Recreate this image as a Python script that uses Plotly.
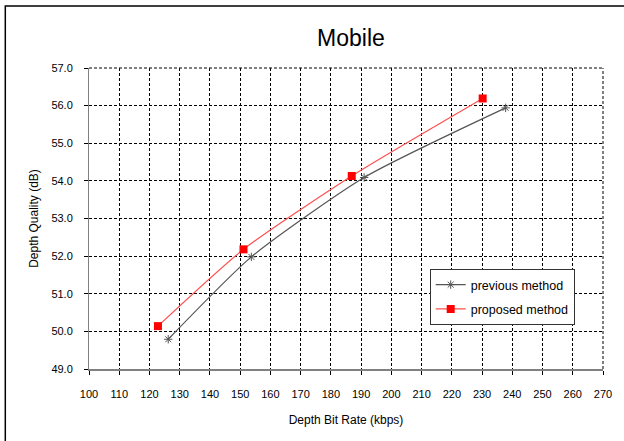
import plotly.graph_objects as go

prev_x = [126.2, 153.7, 191.0, 237.8]
prev_y = [49.79, 51.98, 54.09, 55.94]
prop_x = [122.8, 151.1, 186.9, 230.2]
prop_y = [50.14, 52.18, 54.13, 56.19]

x_ticks = list(range(100, 271, 10))
y_ticks = [49.0 + i for i in range(9)]

FONT = "Liberation Sans, Arial, sans-serif"
DASH = "3px,2px"
L, R, T, B = 89, 611, 68, 369
PW, PH = R - L, B - T

fig = go.Figure()
fig.add_trace(go.Scatter(
    x=prev_x, y=prev_y, name="previous method", mode="lines+markers", legendgroup="a",
    line=dict(color="#555555", width=1.2, shape="spline", smoothing=0.6),
    marker=dict(symbol="asterisk-open", size=7, color="#555555", line=dict(width=1, color="#555555")),
))
fig.add_trace(go.Scatter(
    x=prop_x, y=prop_y, name="proposed method", mode="lines+markers", legendgroup="b",
    line=dict(color="#ff5050", width=1.2, shape="spline", smoothing=0.6),
    marker=dict(symbol="square", size=8, color="#ff0000"),
))

fig.update_layout(
    width=624, height=441,
    margin=dict(l=L, r=624 - R, t=T, b=441 - B),
    paper_bgcolor="white", plot_bgcolor="white",
    font=dict(family=FONT, size=11, color="black"),
    title=dict(text="Mobile", x=351 / 624, xanchor="center", y=1 - 38 / 441, yanchor="middle",
               font=dict(size=23, family=FONT, color="black")),
    showlegend=True,
    legend=dict(x=(435 - L) / PW, y=(B - 269) / PH, xanchor="left", yanchor="top",
                bgcolor="white", bordercolor="#333333", borderwidth=1,
                font=dict(size=12.5, family=FONT), tracegroupgap=5, itemwidth=30),
)
fig.update_xaxes(
    range=[100, 270], tickvals=x_ticks, ticktext=[str(v) for v in x_ticks],
    showgrid=True, gridcolor="black", griddash=DASH, gridwidth=1,
    showline=True, linecolor="#808080", linewidth=2,
    ticks="outside", ticklen=4, tickcolor="black", ticklabelstandoff=10,
    zeroline=False,
    title=dict(text="Depth Bit Rate (kbps)", font=dict(size=12, family=FONT), standoff=16),
)
fig.update_yaxes(
    range=[49, 57], tickvals=y_ticks, ticktext=[f"{v:.1f}" for v in y_ticks],
    showgrid=True, gridcolor="black", griddash=DASH, gridwidth=1,
    showline=True, linecolor="#808080", linewidth=1,
    ticks="outside", ticklen=4, tickcolor="black", ticklabelstandoff=9,
    zeroline=False,
    title=dict(text="Depth Quality (dB)", font=dict(size=12, family=FONT), standoff=10),
)
fig.add_shape(type="line", xref="paper", yref="paper", x0=1, x1=1, y0=0, y1=1,
              line=dict(color="black", width=1, dash=DASH))
fig.add_shape(type="line", xref="paper", yref="paper", x0=0, x1=1, y0=1, y1=1,
              line=dict(color="black", width=1, dash=DASH))
fig.add_shape(type="rect", xref="paper", yref="paper",
              x0=(4 - L) / PW, x1=(640 - L) / PW, y0=(B - 460) / PH, y1=(B - 6) / PH,
              line=dict(color="black", width=1.5))

fig.write_html("out.html", config={"displayModeBar": False},
               post_script="document.body.style.margin='0px';")
